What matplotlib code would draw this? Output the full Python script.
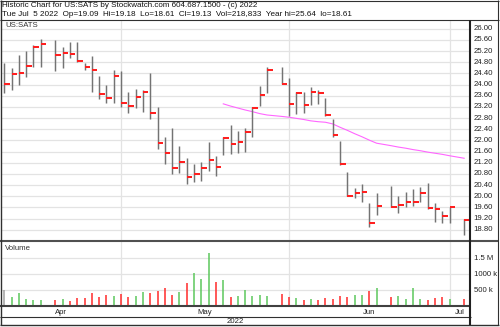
import numpy as np
import pandas as pd
import matplotlib
matplotlib.use('Agg')
import matplotlib.pyplot as plt
from matplotlib.lines import Line2D

plt.rcParams['font.family'] = ['Liberation Sans', 'DejaVu Sans']

# ---------------- data ----------------
ticker = "US:SATS"
header1 = "Historic Chart for US:SATS by Stockwatch.com 604.687.1500 - (c) 2022"
header2 = ("Tue Jul  5 2022  Op=19.09  Hi=19.18  Lo=18.61  Cl=19.13  "
           "Vol=218,833  Year hi=25.64  lo=18.61")

start_day = '2022-04-07'
end_day = '2022-07-05'
holidays = ['2022-04-15', '2022-05-30', '2022-06-20', '2022-07-04']

highs = [24.79, 24.58, 25.06, 25.20, 25.42, 25.64,
         25.60, 25.34, 25.54, 25.54, 24.76, 25.03, 24.31, 23.99, 24.52, 24.49,
         23.75, 23.83, 23.81, 24.40, 23.19, 22.13, 22.43, 21.80, 21.36, 21.15,
         21.24, 21.95, 21.44, 22.13, 22.55, 22.34, 22.43, 23.21, 23.95, 24.62,
         24.64, 24.25, 23.75, 23.72, 23.90, 23.81, 23.53, 22.76, 21.98, 20.88,
         20.28, 20.44, 19.77, 20.13,
         20.37, 20.01, 20.16, 20.25, 20.32, 20.46, 19.75, 19.48, 19.60,
         19.18]
lows = [23.71, 23.81, 23.99, 24.28, 24.64, 24.64,
        24.50, 24.61, 24.94, 24.82, 24.52, 23.75, 23.47, 23.35, 23.33, 23.21,
        22.97, 23.17, 23.00, 22.76, 21.69, 21.15, 20.78, 20.82, 20.43, 20.52,
        20.56, 20.91, 20.73, 21.48, 21.51, 21.54, 21.60, 22.13, 23.23, 23.69,
        24.02, 22.87, 22.95, 22.97, 23.27, 23.30, 22.87, 22.13, 21.12, 20.01,
        19.92, 19.80, 18.91, 19.33,
        19.60, 19.41, 19.60, 19.65, 19.80, 19.53, 19.09, 19.05, 19.03,
        18.61]
closes = [24.02, 24.37, 24.40, 24.67, 25.36, 25.46,
          25.06, 25.14, 25.08, 24.86, 24.64, 24.52, 23.65, 23.51, 24.31, 23.35,
          23.23, 23.54, 23.73, 22.97, 21.92, 21.56, 21.00, 21.21, 20.70, 20.78,
          21.00, 21.30, 21.04, 22.10, 21.87, 21.95, 22.31, 23.15, 23.63, 24.52,
          24.02, 23.30, 23.71, 23.27, 23.75, 23.71, 22.91, 22.19, 21.14, 20.02,
          20.10, 20.16, 19.03, 19.66,
          19.62, 19.68, 19.78, 19.79, 20.10, 19.57, 19.54, 19.30, 19.60,
          19.13]
volumes = [503, 292, 418, 220, 179, 179,
           179, 220, 167, 242, 242, 418, 292, 346, 315, 377,
           274, 315, 440, 399, 472, 576, 346, 431, 714, 1028,
           859, 1676, 764, 818, 274, 315, 503, 324, 346, 315,
           377, 274, 242, 179, 220, 189, 242, 220, 315, 274,
           346, 346, 481, 557,
           292, 315, 220, 557, 220, 189, 242, 274, 220,
           218.833]  # thousands

# moving average, from the 18th trading day of the window onward
ma_values = [23.31, 23.23, 23.16, 23.09, 23.03, 22.96, 22.91,
             22.86, 22.83, 22.79, 22.75, 22.70, 22.67, 22.65, 22.59, 22.47,
             22.36, 22.24, 22.13, 22.01, 21.90,
             21.81, 21.76, 21.72, 21.67, 21.63, 21.58, 21.54, 21.50, 21.45,
             21.36]

month_lines = ['2022-04-29', '2022-06-01', '2022-07-01']
month_names = ['Apr', 'May', 'Jun', 'Jul']
year_label = '2022'
price_ticks = [18.80, 19.20, 19.60, 20.00, 20.40, 20.80, 21.20, 21.60, 22.00,
               22.40, 22.80, 23.20, 23.60, 24.00, 24.40, 24.80, 25.20, 25.60,
               26.00]
vol_ticks = [500, 1000, 1500]
vol_tick_labels = ['500 k', '1000 k', '1.5 M']

# ---------------- positions (business-day slots) ----------------
all_days = pd.bdate_range(start_day, end_day)
slot_of = {d.strftime('%Y-%m-%d'): i for i, d in enumerate(all_days)}
trade_days = [d for d in all_days if d.strftime('%Y-%m-%d') not in holidays]
x = np.array([slot_of[d.strftime('%Y-%m-%d')] for d in trade_days], dtype=float)
highs = np.array(highs); lows = np.array(lows); closes = np.array(closes)
vol = np.array(volumes) * 1000.0
x_ma = x[len(x) - len(ma_values):]

# ---------------- figure ----------------
W, H = 500, 327
fig = plt.figure(figsize=(W / 100, H / 100), dpi=100)
fig.patch.set_facecolor('white')


def rect(x0, y0, x1, y1):
    return [x0 / W, 1 - y1 / H, (x1 - x0) / W, (y1 - y0) / H]


def fx(px):
    return px / W


def fy(py):
    return 1 - py / H


def hline(y, x0, x1, color, lw):
    fig.add_artist(Line2D([fx(x0), fx(x1)], [fy(y), fy(y)], color=color,
                          lw=lw, transform=fig.transFigure, solid_capstyle='butt'))


def vline(xp, y0, y1, color, lw):
    fig.add_artist(Line2D([fx(xp), fx(xp)], [fy(y0), fy(y1)], color=color,
                          lw=lw, transform=fig.transFigure, solid_capstyle='butt'))


XL = (-0.45, 63.8)
ax = fig.add_axes(rect(1, 20, 470, 240))
axv = fig.add_axes(rect(1, 241, 470, 306))
for a in (ax, axv):
    a.set_xlim(*XL)
    a.set_xticks([]); a.set_yticks([])
    for s in a.spines.values():
        s.set_visible(False)
    a.patch.set_alpha(0)

ax.set_ylim(18.43, 26.315)
axv.set_ylim(0, 2.04e6)

grid_c = '#e3e3e3'
mline_x = [slot_of[m] for m in month_lines]
for a in (ax, axv):
    for mx in mline_x:
        a.axvline(mx, color=grid_c, lw=0.9, zorder=0)
for p in price_ticks:
    ax.axhline(p, color=grid_c, lw=0.9, zorder=0)
for v in vol_ticks:
    axv.axhline(v * 1000, color=grid_c, lw=0.9, zorder=0)

# price bars
ax.vlines(x, lows, highs, color='#737373', lw=1.05, zorder=2)
ax.hlines(closes, x, x + 0.75, color='#ff2020', lw=1.45, zorder=3)
ax.plot(x_ma, ma_values, color='#ff66ff', lw=0.8, zorder=1)

# volume bars
prev = np.r_[np.nan, closes[:-1]]
vcolors = []
for c, pc in zip(closes, prev):
    if np.isnan(pc):
        vcolors.append('#a0a0a0')
    elif c >= pc:
        vcolors.append('#5cc85c')
    else:
        vcolors.append('#ff2a2a')
axv.vlines(x, 0, vol, colors=vcolors, lw=1.1, zorder=2)

# ---------------- texts ----------------
fs = 5.6
fig.text(fx(2), fy(5.5), header1, fontsize=5.8, va='center', ha='left', color='#111111')
fig.text(fx(2), fy(14.5), header2, fontsize=5.85, va='center', ha='left', color='#111111')
fig.text(fx(5), fy(25.5), ticker, fontsize=fs, va='center', ha='left', color='#333333')
fig.text(fx(5), fy(249), 'Volume', fontsize=fs, va='center', ha='left', color='#333333')

for p in price_ticks:
    yd = ax.transData.transform((0, p))[1]
    yf = fig.transFigure.inverted().transform((0, yd))[1]
    fig.text(fx(473.5), yf, f'{p:.2f}', fontsize=fs, va='center', ha='left', color='#222222')
for v, lab in zip(vol_ticks, vol_tick_labels):
    yd = axv.transData.transform((0, v * 1000))[1]
    yf = fig.transFigure.inverted().transform((0, yd))[1]
    fig.text(fx(474.5), yf, lab, fontsize=fs, va='center', ha='left', color='#222222')

bounds = [XL[0]] + mline_x + [XL[1]]
for i, name in enumerate(month_names):
    mid = (bounds[i] + bounds[i + 1]) / 2
    xd = ax.transData.transform((mid, 0))[0]
    xf = fig.transFigure.inverted().transform((xd, 0))[0]
    fig.text(xf, fy(312), name, fontsize=fs, va='center', ha='center', color='#222222')
fig.text(fx(235), fy(321.5), year_label, fontsize=fs, va='center', ha='center', color='#222222')

# ---------------- frame lines ----------------
dark = '#303030'
hline(0.5, 0, 498.5, dark, 0.8)
hline(20, 0, 498.5, dark, 0.8)
hline(240.8, 0, 498.5, '#505050', 1.5)
hline(306.3, 0, 470.5, '#404040', 1.5)
hline(317, 0, 470.5, dark, 0.8)
hline(325, 0, 498.5, dark, 1.0)
vline(0.5, 0, 325, dark, 1.0)
vline(498, 0, 325, dark, 0.8)
vline(470.3, 20, 325, '#202020', 1.5)

fig.savefig('out.png', dpi=100, facecolor='white')
